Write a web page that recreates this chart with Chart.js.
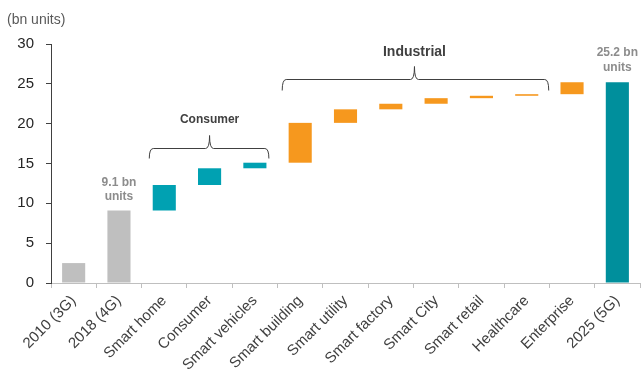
<!DOCTYPE html>
<html lang="en">
<head>
<meta charset="UTF-8">
<title>IoT connections waterfall</title>
<style>
  body { margin: 0; background: #fff; }
  #wrap { width: 641px; height: 377px; position: relative; }
</style>
</head>
<body>
<div id="wrap"><canvas id="myChart"></canvas></div>
<script src="https://cdn.jsdelivr.net/npm/chart.js"></script>
<script>
// data
const categories = ['2010 (3G)', '2018 (4G)', 'Smart home', 'Consumer', 'Smart vehicles',
  'Smart building', 'Smart utility', 'Smart factory', 'Smart City', 'Smart retail',
  'Healthcare', 'Enterprise', '2025 (5G)'];
const barStart = [0, 0, 9.1, 12.3, 14.4, 15.1, 20.1, 21.8, 22.5, 23.2, 23.5, 23.7, 0];
const barEnd = [2.5, 9.1, 12.3, 14.4, 15.1, 20.1, 21.8, 22.5, 23.2, 23.5, 23.7, 25.2, 25.2];
const yTicks = [0, 5, 10, 15, 20, 25, 30];

const GRAY = '#BFBFBF', TEAL = '#00A1B2', ORANGE = '#F6981E', DARKTEAL = '#008F9C';
const barColors = categories.map((c, i) => {
  if (i < 2) return GRAY;
  if (i < 5) return TEAL;
  if (i < 12) return ORANGE;
  return DARKTEAL;
});

const FONT = '"Liberation Sans", Arial, sans-serif';

// braces + text labels
function brace(ctx, x1, x2, xm, y, drop, rise) {
  ctx.beginPath();
  ctx.moveTo(x1, y + drop);
  ctx.quadraticCurveTo(x1, y, x1 + 4, y);
  ctx.lineTo(xm - 4, y);
  ctx.quadraticCurveTo(xm, y, xm, y - rise);
  ctx.quadraticCurveTo(xm, y, xm + 4, y);
  ctx.lineTo(x2 - 4, y);
  ctx.quadraticCurveTo(x2, y, x2, y + drop);
  ctx.stroke();
}

const notes = {
  id: 'notes',
  afterDraw(chart) {
    const ctx = chart.ctx, x = chart.scales.x, y = chart.scales.y;
    ctx.save();
    ctx.textAlign = 'left';
    ctx.textBaseline = 'middle';
    ctx.fillStyle = '#595959';
    ctx.font = '14px ' + FONT;
    ctx.fillText('(bn units)', 7, 20);

    ctx.textAlign = 'center';
    ctx.fillStyle = '#8C8C8C';
    ctx.font = 'bold 12px ' + FONT;
    ctx.fillText('9.1 bn', x.getPixelForValue(1), y.getPixelForValue(12.55));
    ctx.fillText('units', x.getPixelForValue(1), y.getPixelForValue(10.8));
    ctx.fillText('25.2 bn', x.getPixelForValue(12), y.getPixelForValue(28.9));
    ctx.fillText('units', x.getPixelForValue(12), y.getPixelForValue(27.0));

    ctx.fillStyle = '#404040';
    ctx.font = 'bold 12px ' + FONT;
    ctx.fillText('Consumer', x.getPixelForValue(3), y.getPixelForValue(20.45));
    ctx.font = 'bold 14px ' + FONT;
    ctx.fillText('Industrial', (x.getPixelForValue(5) + x.getPixelForValue(10)) / 2 + 1, y.getPixelForValue(29.0));

    ctx.strokeStyle = '#404040';
    ctx.lineWidth = 1;
    brace(ctx, x.getPixelForValue(2) - 15, x.getPixelForValue(4) + 14, x.getPixelForValue(3),
      Math.round(y.getPixelForValue(16.95)) + 0.5, 10, 13);
    brace(ctx, x.getPixelForValue(5) - 18, x.getPixelForValue(10) + 22,
      (x.getPixelForValue(5) + x.getPixelForValue(10)) / 2 + 1,
      Math.round(y.getPixelForValue(25.6)) + 0.5, 11, 13);
    ctx.restore();
  }
};

const data = {
  labels: categories,
  datasets: [{
    data: categories.map((c, i) => [barStart[i], barEnd[i]]),
    backgroundColor: barColors,
    borderWidth: 0,
    barPercentage: 1,
    categoryPercentage: 0.51
  }]
};

const config = {
  type: 'bar',
  data,
  options: {
    responsive: true,
    maintainAspectRatio: false,
    animation: false,
    layout: { padding: { top: 44, right: 1, bottom: 0, left: 0 } },
    plugins: {
      legend: { display: false },
      tooltip: { enabled: false }
    },
    scales: {
      x: {
        grid: { display: true, drawOnChartArea: false, offset: true, color: '#BFBFBF', tickLength: 5 },
        border: { display: true, color: '#BFBFBF' },
        ticks: {
          minRotation: 45, maxRotation: 45, autoSkip: false,
          color: '#404040', font: { family: FONT, size: 15 }, padding: 4
        },
        afterFit(scale) { scale.height = 94; }
      },
      y: {
        min: 0, max: 30,
        afterBuildTicks(scale) { scale.ticks = yTicks.map(v => ({ value: v })); },
        grid: { display: true, drawOnChartArea: false, color: '#404040', tickLength: 5 },
        border: { display: true, color: '#404040' },
        ticks: { color: '#262626', font: { family: FONT, size: 15 }, padding: 12 },
        afterFit(scale) { scale.width = 51; }
      }
    }
  },
  plugins: [notes]
};

const myChart = new Chart(document.getElementById('myChart'), config);
</script>
</body>
</html>
